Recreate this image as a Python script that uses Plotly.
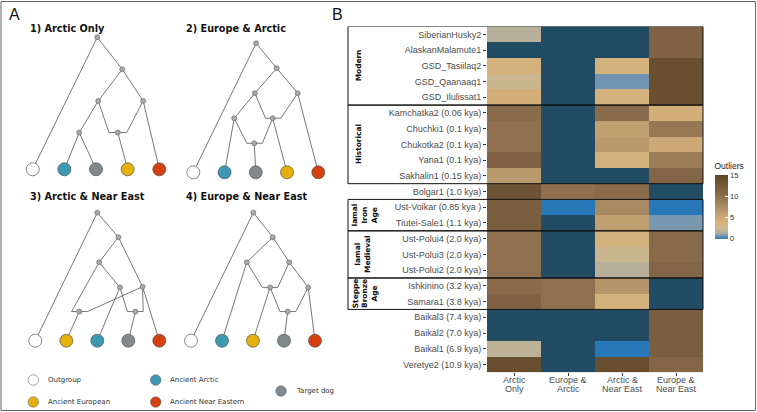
import plotly.graph_objects as go

# ---------------- Panel B data ----------------
SAMPLES = [
    "SiberianHusky2", "AlaskanMalamute1", "GSD_Tasiilaq2", "GSD_Qaanaaq1", "GSD_Ilulissat1",
    "Kamchatka2 (0.06 kya)", "Chuchki1 (0.1 kya)", "Chukotka2 (0.1 kya)", "Yana1 (0.1 kya)",
    "Sakhalin1 (0.15 kya)", "Bolgar1 (1.0 kya)", "Ust-Voikar (0.85 kya )", "Tiutei-Sale1 (1.1 kya)",
    "Ust-Polui4 (2.0 kya)", "Ust-Polui3 (2.0 kya)", "Ust-Polui2 (2.0 kya)", "Ishkinino (3.2 kya)",
    "Samara1 (3.8 kya)", "Baikal3 (7.4 kya)", "Baikal2 (7.0 kya)", "Baikal1 (6.9 kya)",
    "Veretye2 (10.9 kya)",
]
COLUMN_LABELS = ["Arctic<br>Only", "Europe &<br>Arctic", "Arctic &<br>Near East", "Europe &<br>Near East"]

# outlier counts per model (None = not available)
ARCTIC_ONLY = [1.7, None, 4, 2.6, 4.5, 10.5, 10, 10, 11.5, 6.5, 13.5, 12, 12, 10, 10, 10,
               10.5, 11.5, None, None, 2, 14]
EUROPE_ARCTIC = [None, None, None, None, None, None, None, None, None, None, 10, 0, None,
                 None, None, None, 10, 10, None, None, None, None]
ARCTIC_NEAR_EAST = [None, None, 4, 0.7, 4, 10.5, 6, 6.5, 4, None, 10.5, 8, 6, 4, 2.6, 1.7,
                    7, 4, None, None, 0, 14]
EUROPE_NEAR_EAST = [11.5, 11.5, 14, 14, 14, 4.5, 9.5, 5, 9, 11, None, 0, 0.8, 10.5, 10.5, 11,
                    None, None, 12, 12, 12, 11]

GROUP_NAMES = ["Modern", "Historical", "Iamal<br>Iron<br>Age", "Iamal<br>Medieval", "Steppe<br>Bronze<br>Age"]
GROUP_FIRST = [0, 5, 11, 13, 16]
GROUP_LAST = [4, 9, 12, 15, 17]

# ---------------- Panel A data (tree topologies, in leaf / level units) ----------------
TREE_TITLES = ["1) Arctic Only", "2) Europe & Arctic", "3) Arctic & Near East", "4) Europe & Near East"]
TREE_LEAVES = [
    ["Outgroup", "Ancient Arctic", "Target dog", "Ancient European", "Ancient Near Eastern"],
    ["Outgroup", "Ancient Arctic", "Target dog", "Ancient European", "Ancient Near Eastern"],
    ["Outgroup", "Ancient European", "Ancient Arctic", "Target dog", "Ancient Near Eastern"],
    ["Outgroup", "Ancient Arctic", "Ancient European", "Target dog", "Ancient Near Eastern"],
]
TREE_NODES = [
    {"root": (2.04, 4.17), "A": (2.83, 3.16), "B": (2.07, 2.16), "C": (3.49, 2.16),
     "D": (1.47, 1.16), "E": (2.69, 1.16), "EL": (2.41, 1.16), "ER": (2.97, 1.16)},
    {"root": (2.01, 4.13), "A": (2.67, 3.33), "B": (1.97, 2.53), "C": (3.34, 2.53),
     "D": (1.31, 1.73), "E": (2.54, 1.73), "EL": (2.31, 1.73), "ER": (2.80, 1.73),
     "F": (1.95, 0.93), "FL": (1.71, 0.93), "FR": (2.21, 0.93)},
    {"root": (2.00, 4.13), "A": (2.68, 3.34), "B": (2.06, 2.53), "C": (3.46, 1.74),
     "D": (2.73, 1.72), "E": (1.42, 0.94), "EL": (1.17, 0.94), "ER": (1.68, 0.94),
     "F": (3.23, 0.94), "FL": (2.97, 0.94), "FR": (3.48, 0.94)},
    {"root": (2.01, 4.13), "A": (2.64, 3.34), "B": (1.80, 2.53), "C": (3.17, 2.53),
     "D": (2.55, 1.72), "DL": (2.30, 1.72), "DR": (2.80, 1.72), "E": (3.78, 1.72),
     "F": (3.12, 0.94), "FL": (2.87, 0.94), "FR": (3.38, 0.94)},
]
TREE_EDGES = [
    [("root", "L0"), ("root", "A"), ("A", "B"), ("A", "C"), ("C", "L4"), ("B", "D"),
     ("B", "EL"), ("EL", "ER"), ("ER", "C"), ("E", "L3"), ("D", "L1"), ("D", "L2")],
    [("root", "L0"), ("root", "A"), ("A", "B"), ("A", "C"), ("C", "L4"), ("B", "D"),
     ("B", "EL"), ("EL", "ER"), ("ER", "C"), ("E", "L3"), ("D", "L1"), ("D", "FL"),
     ("FL", "FR"), ("FR", "E"), ("F", "L2")],
    [("root", "L0"), ("root", "A"), ("A", "B"), ("A", "C"), ("C", "L4"), ("B", "EL"),
     ("EL", "ER"), ("ER", "C"), ("B", "D"), ("D", "L2"), ("D", "FL"), ("FL", "FR"),
     ("FR", "C"), ("E", "L1"), ("F", "L3")],
    [("root", "L0"), ("root", "A"), ("A", "B"), ("A", "C"), ("B", "L1"), ("B", "DL"),
     ("DL", "DR"), ("DR", "C"), ("C", "E"), ("E", "L4"), ("E", "FR"), ("FL", "FR"),
     ("D", "L2"), ("D", "FL"), ("F", "L3")],
]
TREE_DOTS = [
    ["root", "A", "B", "C", "D", "E"],
    ["root", "A", "B", "C", "D", "E", "F"],
    ["root", "A", "B", "C", "D", "E", "F"],
    ["root", "A", "B", "C", "D", "E", "F"],
]
LEGEND_NAMES = ["Outgroup", "Ancient European", "Ancient Arctic", "Ancient Near Eastern", "Target dog"]

# ---------------- styling / layout ----------------
W, H = 757, 412
GROUP_COLORS = {"Outgroup": "#ffffff", "Ancient Arctic": "#3b9ab2", "Target dog": "#7f8a8f",
                "Ancient European": "#e6b00a", "Ancient Near Eastern": "#d5400f"}
NA_COLOR = "#224b64"
LINE_COLOR = "#4a4a4a"
# panel placement: leaf-0 x, leaf baseline y, unit (px)
PANELS = [(32.7, 169.3, 31.65), (193.3, 172.3, 31.25), (35.3, 340.7, 31.0), (191.0, 340.7, 31.0)]
TITLE_POS = [(27.5, 29), (184, 29), (27.5, 196), (184, 196)]
LEGEND_POS = [(33.3, 380), (33.3, 402), (155.7, 380), (155.7, 402), (281, 391)]

HM_LEFT, HM_RIGHT, HM_TOP, HM_BOTTOM = 487, 703, 26.5, 372.3
BOX_LEFT = 348
XLAB_LINES = [380, 389.3]


def px(x):
    return x / W


def py(y):
    return 1 - y / H


fig = go.Figure()

# ---- heatmap ----
n = len(SAMPLES)
cols = [ARCTIC_ONLY, EUROPE_ARCTIC, ARCTIC_NEAR_EAST, EUROPE_NEAR_EAST]
z = [[c[i] for c in cols] for i in range(n)]
z_na = [[1 if c[i] is None else None for c in cols] for i in range(n)]
xs = list(range(len(COLUMN_LABELS)))
ys = list(range(n))

fig.add_trace(go.Heatmap(x=xs, y=ys, z=z_na, colorscale=[[0, NA_COLOR], [1, NA_COLOR]],
                         showscale=False, hoverinfo="skip", xaxis="x", yaxis="y"))
fig.add_trace(go.Heatmap(
    x=xs, y=ys, z=z, zmin=0, zmax=15.2, xaxis="x", yaxis="y",
    colorscale=[[0, "#2878b8"], [0.045, "#6f95b2"], [0.10, "#b3ae9c"], [0.19, "#d2b98c"],
                [0.28, "#d5b17b"], [0.5, "#ad8f66"], [0.7, "#86694a"], [1.0, "#5c4626"]],
    colorbar=dict(
        title=dict(text="Outliers", side="top", font=dict(family="Liberation Sans", size=8.5, color="#222")),
        x=px(714.5), xanchor="left", y=py(159.5), yanchor="top",
        len=79, lenmode="pixels", thickness=12.5, thicknessmode="pixels",
        tickvals=[0, 5, 10, 15], ticks="inside", ticklen=3, tickcolor="white",
        tickfont=dict(family="Liberation Sans", size=7.5, color="#333"),
        outlinewidth=0, xpad=0, ypad=0),
))

# ---- trees ----
for t in range(4):
    ox, oy, u = PANELS[t]
    nodes = dict(TREE_NODES[t])
    for k in range(5):
        nodes["L%d" % k] = (k, 0)

    def tp(name):
        x, y = nodes[name]
        return ox + x * u, oy - y * u

    ex, ey = [], []
    for a, b in TREE_EDGES[t]:
        xa, ya = tp(a)
        xb, yb = tp(b)
        ex += [xa, xb, None]
        ey += [ya, yb, None]
    fig.add_trace(go.Scatter(x=ex, y=ey, mode="lines", line=dict(color=LINE_COLOR, width=0.75),
                             xaxis="x2", yaxis="y2", hoverinfo="skip", showlegend=False))
    dx = [tp(d)[0] for d in TREE_DOTS[t]]
    dy = [tp(d)[1] for d in TREE_DOTS[t]]
    fig.add_trace(go.Scatter(x=dx, y=dy, mode="markers",
                             marker=dict(size=5, color="#a8a8a8", line=dict(color="#666", width=0.6)),
                             xaxis="x2", yaxis="y2", hoverinfo="skip", showlegend=False))
    lx = [tp("L%d" % k)[0] for k in range(5)]
    ly = [tp("L%d" % k)[1] for k in range(5)]
    fig.add_trace(go.Scatter(x=lx, y=ly, mode="markers",
                             marker=dict(size=13, color=[GROUP_COLORS[g] for g in TREE_LEAVES[t]],
                                         line=dict(color="#555", width=0.7)),
                             xaxis="x2", yaxis="y2", hoverinfo="skip", showlegend=False))

# ---- legend of panel A ----
fig.add_trace(go.Scatter(x=[p[0] for p in LEGEND_POS], y=[p[1] for p in LEGEND_POS], mode="markers",
                         marker=dict(size=10.5, color=[GROUP_COLORS[g] for g in LEGEND_NAMES],
                                     line=dict(color="#666", width=0.6)),
                         xaxis="x2", yaxis="y2", hoverinfo="skip", showlegend=False))

annotations = []
for name, (lx, ly) in zip(LEGEND_NAMES, LEGEND_POS):
    annotations.append(dict(x=px(lx + 12.5), y=py(ly), xref="paper", yref="paper", text=name,
                            showarrow=False, xanchor="left", yanchor="middle",
                            font=dict(family="DejaVu Sans", size=7, color="#333")))
for title, (tx, ty) in zip(TREE_TITLES, TITLE_POS):
    annotations.append(dict(x=px(tx), y=py(ty), xref="paper", yref="paper", text="<b>%s</b>" % title,
                            showarrow=False, xanchor="left", yanchor="middle",
                            font=dict(family="DejaVu Sans", size=9.7, color="#111")))
annotations.append(dict(x=px(6.5), y=py(15), xref="paper", yref="paper", text="A", showarrow=False,
                        xanchor="left", yanchor="middle", font=dict(family="Liberation Sans", size=16, color="#111")))
annotations.append(dict(x=px(330), y=py(15), xref="paper", yref="paper", text="B", showarrow=False,
                        xanchor="left", yanchor="middle", font=dict(family="Liberation Sans", size=16, color="#111")))

# column labels (two tightly spaced lines, as in the reference)
for xi, lab in zip(xs, COLUMN_LABELS):
    for line, ly in zip(lab.split("<br>"), XLAB_LINES):
        annotations.append(dict(x=xi, y=py(ly), xref="x", yref="paper", text=line, showarrow=False,
                                xanchor="center", yanchor="middle",
                                font=dict(family="Liberation Sans", size=9, color="#4d4d4d")))

shapes = []
STRIP_X = {1: 358.5, 2: 362.5, 3: 364.5}
for name, a, b in zip(GROUP_NAMES, GROUP_FIRST, GROUP_LAST):
    shapes.append(dict(type="rect", xref="paper", yref="y", x0=px(BOX_LEFT), x1=px(HM_RIGHT),
                       y0=a - 0.5, y1=b + 0.5, line=dict(color="#111", width=1), fillcolor="rgba(0,0,0,0)"))
    nlines = name.count("<br>") + 1
    annotations.append(dict(x=px(STRIP_X[nlines]), y=(a + b) / 2, xref="paper", yref="y",
                            text="<b>%s</b>" % name, textangle=-90, showarrow=False,
                            xanchor="center", yanchor="middle",
                            font=dict(family="DejaVu Sans", size=7.4, color="#111")))

# outer frame
shapes.append(dict(type="rect", xref="paper", yref="paper", x0=px(1), x1=px(755.5), y0=py(410.5), y1=py(1.5),
                   line=dict(color="#666", width=1), fillcolor="rgba(0,0,0,0)"))

fig.update_layout(
    width=W, height=H, margin=dict(l=0, r=0, t=0, b=0),
    paper_bgcolor="white", plot_bgcolor="rgba(0,0,0,0)", showlegend=False,
    xaxis=dict(domain=[px(HM_LEFT), px(HM_RIGHT)], anchor="y", range=[-0.5, 3.5],
               tickvals=xs, showticklabels=False, ticks="outside", ticklen=3, tickcolor="#333",
               showgrid=False, zeroline=False, showline=False),
    yaxis=dict(domain=[py(HM_BOTTOM), py(HM_TOP)], anchor="x", range=[n - 0.5, -0.5],
               tickvals=ys, ticktext=SAMPLES, ticks="outside", ticklen=3, tickcolor="#333",
               tickfont=dict(family="Liberation Sans", size=9, color="#4d4d4d"),
               showgrid=False, zeroline=False, showline=False),
    xaxis2=dict(domain=[0, 1], anchor="y2", range=[0, W], visible=False),
    yaxis2=dict(domain=[0, 1], anchor="x2", range=[H, 0], visible=False),
    annotations=annotations, shapes=shapes,
)

fig.write_html("out.html", config={"displayModeBar": False},
               post_script="document.body.style.margin='0';document.body.style.padding='0';")
